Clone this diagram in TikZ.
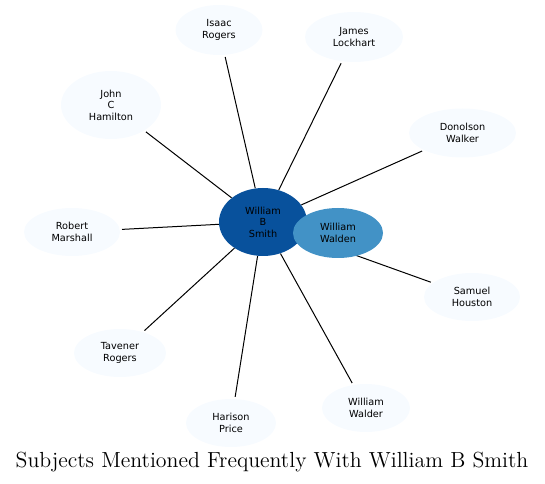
\documentclass[tikz,border=0pt]{standalone}
\usepackage{fontspec}
\usepackage{graphicx}
\newfontfamily\nodefont{DejaVu Sans}
\usetikzlibrary{shapes.geometric}
\pgfdeclarelayer{background}
\pgfsetlayers{background,main}
\definecolor{outerfill}{HTML}{F7FBFF}
\definecolor{centerfill}{HTML}{08519C}
\definecolor{waldenfill}{HTML}{4292C6}
\tikzset{
  person/.style={ellipse, fill=outerfill, inner sep=0pt, align=center,
    font=\nodefont\fontsize{7.3}{8.6}\selectfont},
  link/.style={line width=0.75pt, black},
}
\begin{document}
\begin{tikzpicture}[x=0.75pt,y=-0.75pt]
\useasboundingbox (0,0) rectangle (545,484);
\node[person, minimum width=87*0.75pt, minimum height=50*0.75pt] (isaac) at (219,30) {Isaac\\Rogers};
\node[person, minimum width=98*0.75pt, minimum height=50*0.75pt] (james) at (354,37) {James\\Lockhart};
\node[person, minimum width=100*0.75pt, minimum height=68*0.75pt] (john) at (111,105) {John\\C\\Hamilton};
\node[person, minimum width=107*0.75pt, minimum height=49*0.75pt] (donolson) at (462.5,133) {Donolson\\Walker};
\node[person, minimum width=96*0.75pt, minimum height=48*0.75pt] (robert) at (72,232) {Robert\\Marshall};
\node[person, minimum width=96*0.75pt, minimum height=48*0.75pt] (samuel) at (472,297) {Samuel\\Houston};
\node[person, minimum width=92*0.75pt, minimum height=48*0.75pt] (tavener) at (120,353) {Tavener\\Rogers};
\node[person, minimum width=90*0.75pt, minimum height=48*0.75pt] (harison) at (231,423) {Harison\\Price};
\node[person, minimum width=88*0.75pt, minimum height=48*0.75pt] (walder) at (366,408) {William\\Walder};
\node[person, fill=centerfill, minimum width=88*0.75pt, minimum height=68*0.75pt] (smith) at (263,222) {William\\B\\Smith};
\node[person, fill=waldenfill, minimum width=90*0.75pt, minimum height=50*0.75pt] (walden) at (338,233) {William\\Walden};
\node (title) at (272,462) {\scalebox{1.365}{\fontsize{12}{14}\selectfont Subjects Mentioned Frequently With William B Smith}};
\begin{pgfonlayer}{background}
\foreach \n in {isaac,james,john,donolson,robert,samuel,tavener,harison,walder}
  \draw[link, shorten >=1.5pt] (smith) -- (\n);
\draw[link] (smith) -- (walden);
\end{pgfonlayer}
\end{tikzpicture}
\end{document}
